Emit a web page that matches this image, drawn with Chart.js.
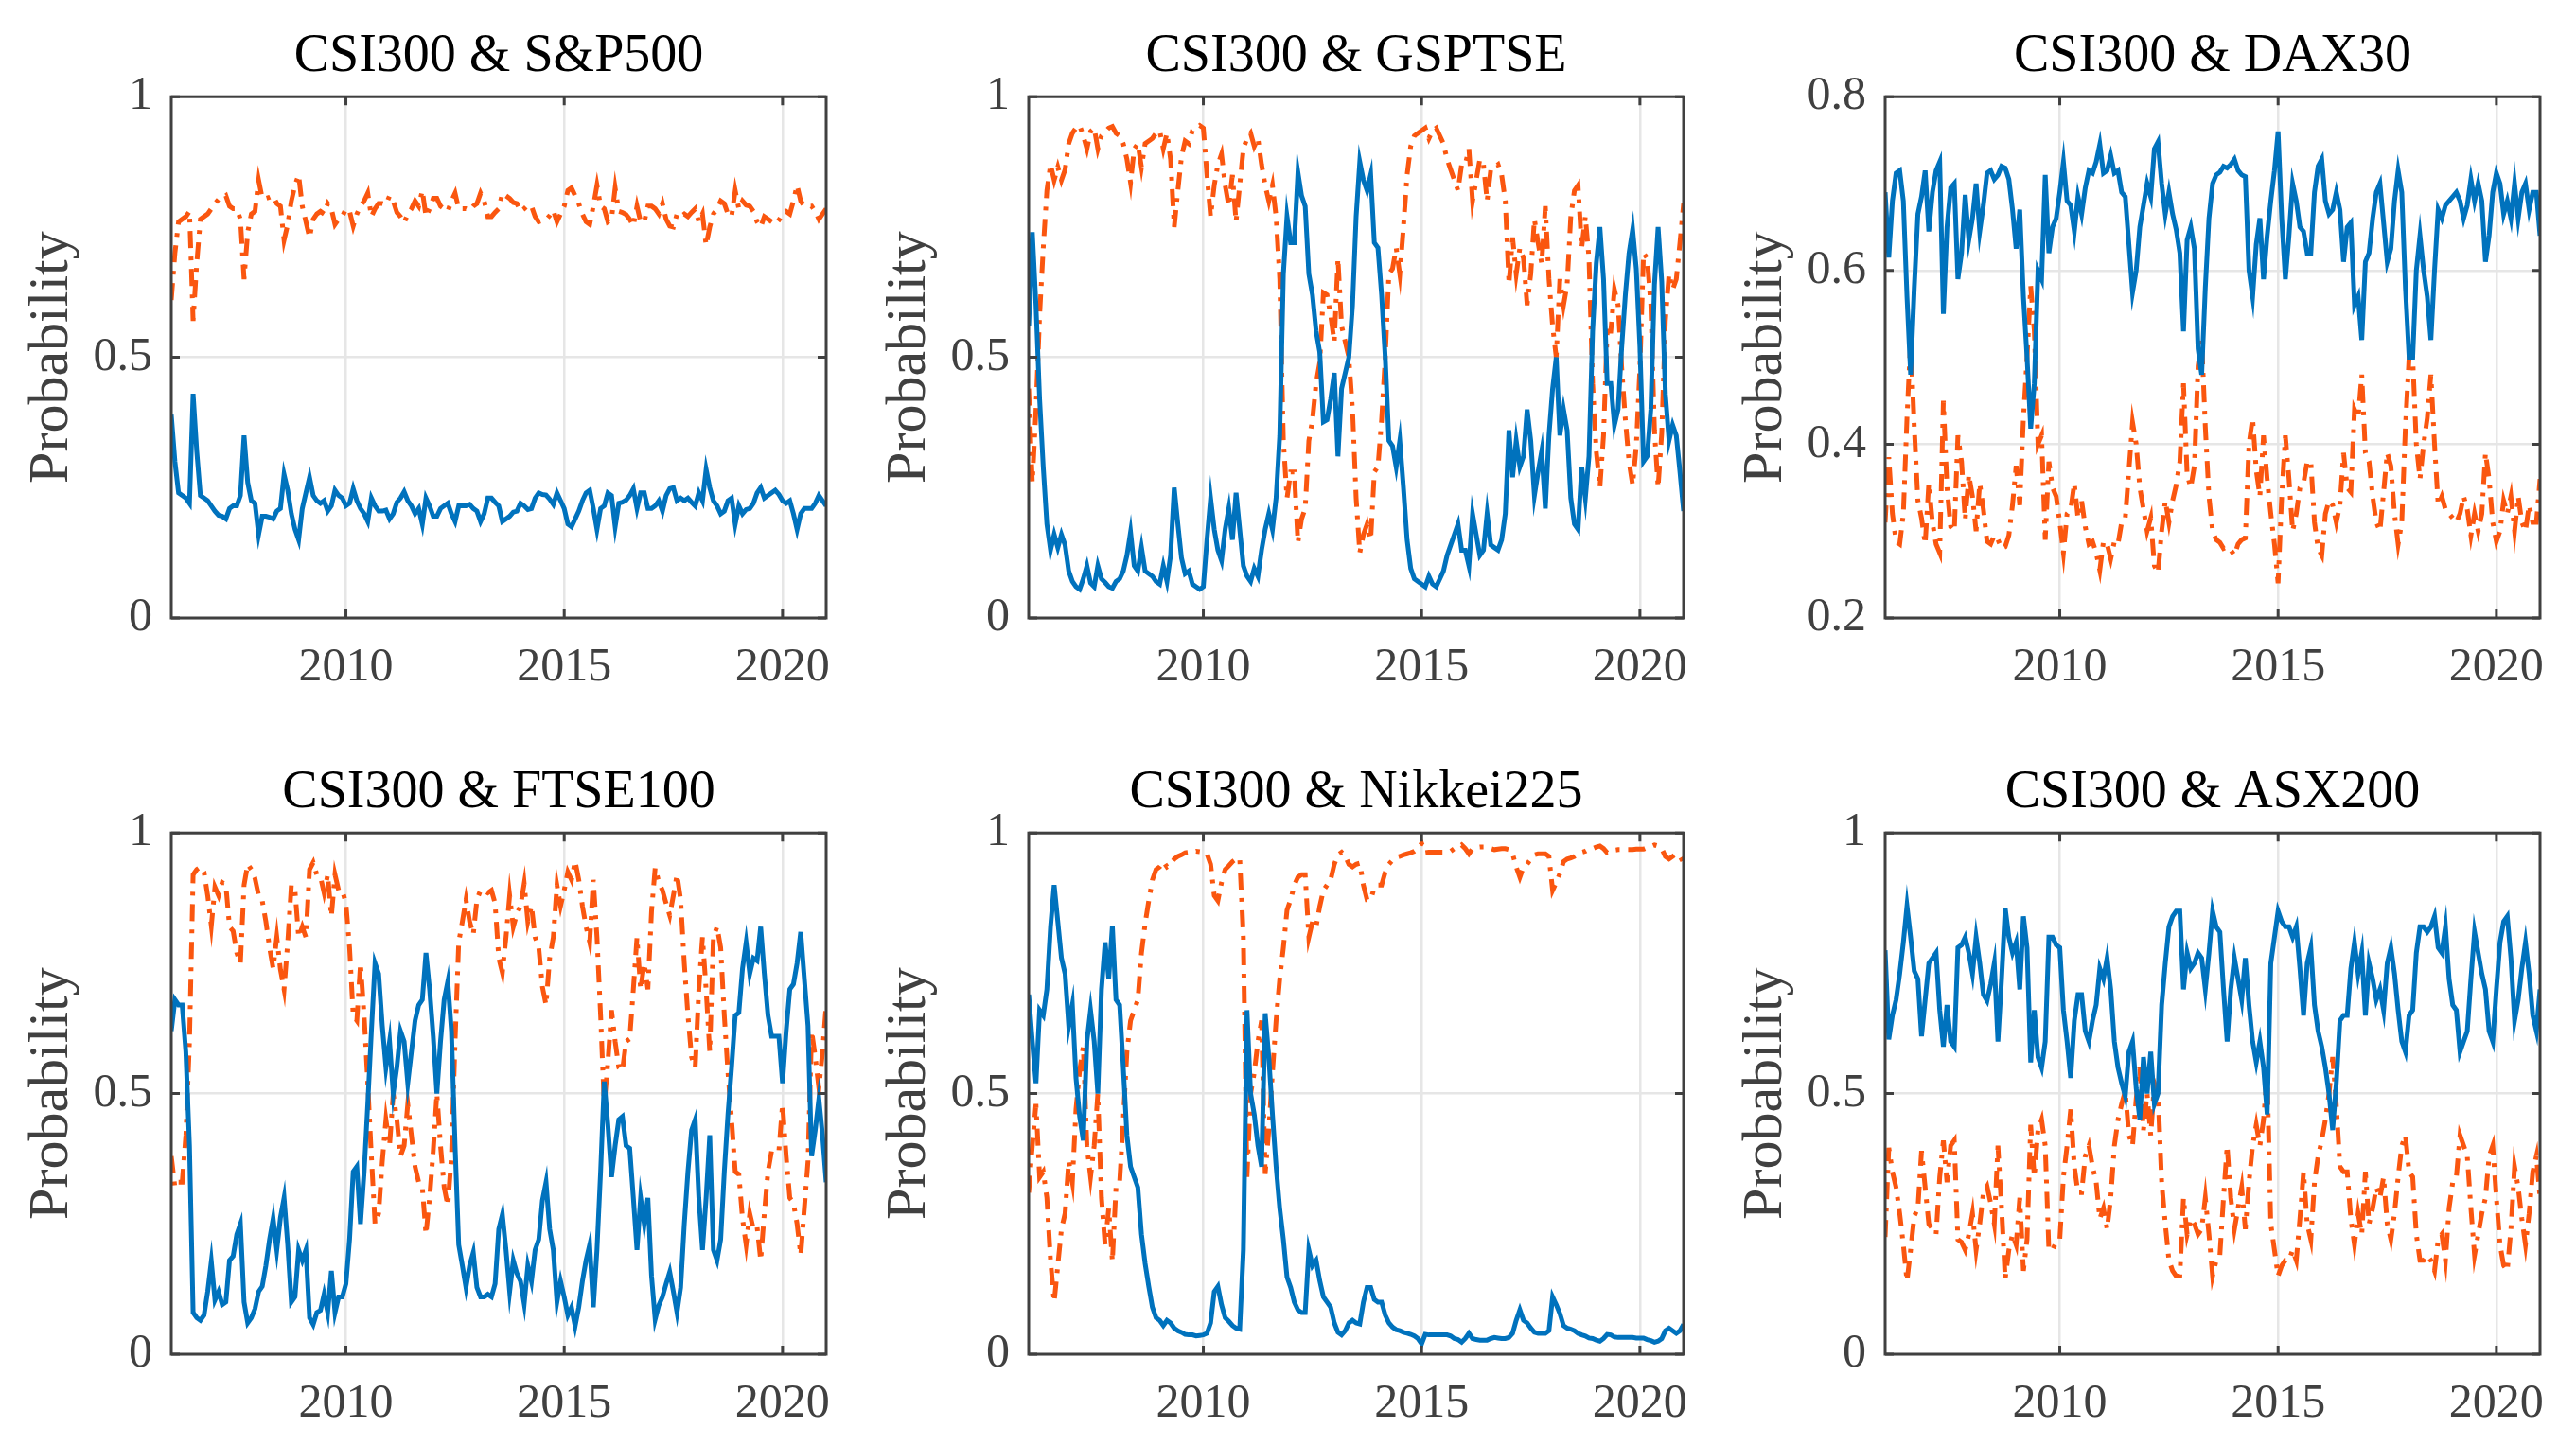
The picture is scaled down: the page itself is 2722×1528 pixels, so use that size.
<!DOCTYPE html>
<html>
<head>
<meta charset="utf-8">
<title>CSI300 regime probabilities</title>
<script src="https://cdn.jsdelivr.net/npm/chart.js@4.4.1/dist/chart.umd.min.js"></script>
<style>
  html, body { margin: 0; padding: 0; background: #fff; }
  body { width: 2722px; height: 1528px; position: relative; overflow: hidden; }
  canvas { position: absolute; }
</style>
</head>
<body>
<canvas id="sp500"></canvas>
<canvas id="gsptse"></canvas>
<canvas id="dax30"></canvas>
<canvas id="ftse100"></canvas>
<canvas id="nikkei225"></canvas>
<canvas id="asx200"></canvas>
<script>
// ==================== DATA ====================
// monthly samples, Jan 2006 .. Jan 2021 (181 points per series)
const startYear = 2006;
const stepsPerYear = 12;

const yearTicks = [2010, 2015, 2020];
const probTicks = [0, 0.5, 1];
const daxTicks = [0.2, 0.4, 0.6, 0.8];

const panelTitles = ['CSI300 & S&P500', 'CSI300 & GSPTSE', 'CSI300 & DAX30',
                     'CSI300 & FTSE100', 'CSI300 & Nikkei225', 'CSI300 & ASX200'];

const sp500State1 = [
  0.39,0.30,0.24,0.235,0.23,0.22,0.43,0.32,0.235,0.23,0.225,0.215,
  0.205,0.197,0.195,0.19,0.21,0.215,0.215,0.235,0.35,0.26,0.225,0.22,
  0.16,0.195,0.195,0.193,0.19,0.205,0.21,0.275,0.245,0.2,0.17,0.15,
  0.21,0.24,0.27,0.235,0.225,0.22,0.225,0.205,0.215,0.245,0.235,0.23,
  0.215,0.22,0.248,0.225,0.21,0.2,0.185,0.23,0.215,0.205,0.205,0.207,
  0.19,0.2,0.222,0.23,0.242,0.225,0.215,0.2,0.21,0.18,0.23,0.215,
  0.195,0.195,0.21,0.215,0.22,0.2,0.185,0.215,0.215,0.215,0.218,0.21,
  0.205,0.185,0.2,0.23,0.23,0.222,0.215,0.185,0.19,0.195,0.203,0.205,
  0.22,0.215,0.208,0.21,0.23,0.24,0.237,0.236,0.228,0.218,0.24,0.225,
  0.21,0.18,0.175,0.19,0.205,0.225,0.24,0.245,0.21,0.17,0.21,0.215,
  0.24,0.235,0.175,0.22,0.222,0.226,0.235,0.248,0.21,0.24,0.24,0.21,
  0.21,0.215,0.225,0.205,0.235,0.248,0.25,0.225,0.23,0.225,0.23,0.222,
  0.215,0.24,0.225,0.285,0.25,0.225,0.215,0.2,0.205,0.225,0.23,0.18,
  0.215,0.2,0.208,0.21,0.22,0.24,0.25,0.23,0.235,0.24,0.245,0.237,
  0.225,0.22,0.225,0.2,0.17,0.2,0.21,0.21,0.21,0.22,0.235,0.225,
  0.215
];
const sp500State2 = [
  0.61,0.70,0.76,0.765,0.77,0.78,0.57,0.68,0.765,0.77,0.775,0.785,
  0.795,0.803,0.805,0.81,0.79,0.785,0.785,0.765,0.65,0.74,0.775,0.78,
  0.84,0.805,0.805,0.807,0.81,0.795,0.79,0.725,0.755,0.8,0.83,0.85,
  0.79,0.76,0.73,0.765,0.775,0.78,0.775,0.795,0.785,0.755,0.765,0.77,
  0.785,0.78,0.752,0.775,0.79,0.8,0.815,0.77,0.785,0.795,0.795,0.793,
  0.81,0.8,0.778,0.77,0.758,0.775,0.785,0.8,0.79,0.82,0.77,0.785,
  0.805,0.805,0.79,0.785,0.78,0.8,0.815,0.785,0.785,0.785,0.782,0.79,
  0.795,0.815,0.8,0.77,0.77,0.778,0.785,0.815,0.81,0.805,0.797,0.795,
  0.78,0.785,0.792,0.79,0.77,0.76,0.763,0.764,0.772,0.782,0.76,0.775,
  0.79,0.82,0.825,0.81,0.795,0.775,0.76,0.755,0.79,0.83,0.79,0.785,
  0.76,0.765,0.825,0.78,0.778,0.774,0.765,0.752,0.79,0.76,0.76,0.79,
  0.79,0.785,0.775,0.795,0.765,0.752,0.75,0.775,0.77,0.775,0.77,0.778,
  0.785,0.76,0.775,0.715,0.75,0.775,0.785,0.8,0.795,0.775,0.77,0.82,
  0.785,0.8,0.792,0.79,0.78,0.76,0.75,0.77,0.765,0.76,0.755,0.763,
  0.775,0.78,0.775,0.8,0.83,0.8,0.79,0.79,0.79,0.78,0.765,0.775,
  0.785
];

const gsptseState1 = [
  0.56,0.74,0.60,0.42,0.29,0.18,0.13,0.16,0.135,0.16,0.14,0.09,
  0.07,0.06,0.055,0.075,0.10,0.067,0.06,0.10,0.075,0.068,0.06,0.057,
  0.07,0.075,0.09,0.12,0.165,0.1,0.09,0.135,0.09,0.085,0.08,0.07,
  0.065,0.1,0.07,0.12,0.25,0.18,0.115,0.085,0.09,0.065,0.06,0.055,
  0.06,0.15,0.23,0.17,0.13,0.11,0.17,0.21,0.15,0.24,0.17,0.1,
  0.08,0.07,0.095,0.08,0.13,0.17,0.2,0.17,0.23,0.35,0.66,0.77,
  0.72,0.72,0.855,0.81,0.79,0.66,0.62,0.55,0.51,0.376,0.38,0.42,
  0.47,0.31,0.44,0.47,0.5,0.6,0.77,0.875,0.84,0.82,0.85,0.72,
  0.71,0.62,0.5,0.34,0.33,0.29,0.34,0.25,0.15,0.095,0.075,0.07,
  0.065,0.06,0.08,0.065,0.06,0.075,0.09,0.12,0.14,0.16,0.18,0.13,
  0.13,0.1,0.2,0.16,0.12,0.13,0.2,0.14,0.135,0.13,0.15,0.2,
  0.36,0.27,0.34,0.29,0.31,0.4,0.34,0.235,0.28,0.32,0.21,0.35,
  0.44,0.5,0.35,0.4,0.36,0.23,0.18,0.17,0.29,0.23,0.31,0.55,
  0.68,0.75,0.65,0.45,0.45,0.37,0.4,0.52,0.62,0.7,0.745,0.67,
  0.52,0.3,0.31,0.4,0.64,0.75,0.645,0.43,0.34,0.37,0.35,0.28,
  0.205
];
const gsptseState2 = [
  0.44,0.26,0.40,0.58,0.71,0.82,0.87,0.84,0.865,0.84,0.86,0.91,
  0.93,0.94,0.945,0.925,0.90,0.933,0.94,0.90,0.925,0.932,0.94,0.943,
  0.93,0.925,0.91,0.88,0.835,0.9,0.91,0.865,0.91,0.915,0.92,0.93,
  0.935,0.9,0.93,0.88,0.75,0.82,0.885,0.915,0.91,0.935,0.94,0.945,
  0.94,0.85,0.77,0.83,0.87,0.89,0.83,0.79,0.85,0.76,0.83,0.9,
  0.92,0.93,0.905,0.92,0.87,0.83,0.8,0.83,0.77,0.65,0.34,0.23,
  0.28,0.28,0.145,0.19,0.21,0.34,0.38,0.45,0.49,0.624,0.62,0.58,
  0.53,0.69,0.56,0.53,0.5,0.4,0.23,0.125,0.16,0.18,0.15,0.28,
  0.29,0.38,0.5,0.66,0.67,0.71,0.66,0.75,0.85,0.905,0.925,0.93,
  0.935,0.94,0.92,0.935,0.94,0.925,0.91,0.88,0.86,0.84,0.82,0.87,
  0.87,0.9,0.8,0.84,0.88,0.87,0.8,0.86,0.865,0.87,0.85,0.8,
  0.64,0.73,0.66,0.71,0.69,0.6,0.66,0.765,0.72,0.68,0.79,0.65,
  0.56,0.5,0.65,0.6,0.64,0.77,0.82,0.83,0.71,0.77,0.69,0.45,
  0.32,0.25,0.35,0.55,0.55,0.63,0.6,0.48,0.38,0.3,0.255,0.33,
  0.48,0.7,0.69,0.6,0.36,0.25,0.355,0.57,0.66,0.63,0.65,0.72,
  0.795
];

const daxState1 = [
  0.69,0.615,0.68,0.712,0.715,0.68,0.57,0.48,0.58,0.665,0.685,0.715,
  0.645,0.69,0.715,0.725,0.55,0.65,0.695,0.7,0.59,0.62,0.687,0.635,
  0.66,0.7,0.645,0.675,0.712,0.715,0.705,0.71,0.72,0.718,0.705,0.67,
  0.625,0.67,0.57,0.5,0.418,0.47,0.6,0.59,0.71,0.62,0.65,0.66,
  0.69,0.725,0.68,0.675,0.645,0.685,0.665,0.695,0.715,0.712,0.725,0.745,
  0.712,0.715,0.732,0.712,0.715,0.69,0.685,0.63,0.575,0.6,0.65,0.675,
  0.7,0.685,0.74,0.748,0.7,0.665,0.69,0.665,0.647,0.62,0.53,0.635,
  0.65,0.625,0.51,0.48,0.58,0.66,0.7,0.71,0.713,0.72,0.718,0.722,
  0.728,0.715,0.71,0.708,0.6,0.57,0.63,0.66,0.59,0.64,0.68,0.715,
  0.76,0.66,0.59,0.64,0.7,0.68,0.65,0.645,0.62,0.62,0.69,0.72,
  0.728,0.68,0.665,0.67,0.69,0.67,0.61,0.65,0.655,0.56,0.57,0.52,
  0.61,0.62,0.66,0.69,0.7,0.655,0.61,0.625,0.68,0.715,0.69,0.58,
  0.5,0.5,0.6,0.64,0.6,0.57,0.52,0.6,0.67,0.66,0.675,0.68,
  0.685,0.69,0.68,0.66,0.675,0.705,0.68,0.7,0.68,0.61,0.64,0.69,
  0.712,0.7,0.665,0.68,0.66,0.7,0.66,0.69,0.7,0.67,0.69,0.69,
  0.64
];
const daxState2 = [
  0.31,0.385,0.32,0.288,0.285,0.32,0.43,0.52,0.42,0.335,0.315,0.285,
  0.355,0.31,0.285,0.275,0.45,0.35,0.305,0.3,0.41,0.38,0.313,0.365,
  0.34,0.3,0.355,0.325,0.288,0.285,0.295,0.29,0.28,0.282,0.295,0.33,
  0.375,0.33,0.43,0.5,0.582,0.53,0.4,0.41,0.29,0.38,0.35,0.34,
  0.31,0.275,0.32,0.325,0.355,0.315,0.335,0.305,0.285,0.288,0.275,0.255,
  0.288,0.285,0.268,0.288,0.285,0.31,0.315,0.37,0.425,0.4,0.35,0.325,
  0.3,0.315,0.26,0.252,0.3,0.335,0.31,0.335,0.353,0.38,0.47,0.365,
  0.35,0.375,0.49,0.52,0.42,0.34,0.3,0.29,0.287,0.28,0.282,0.278,
  0.272,0.285,0.29,0.292,0.4,0.43,0.37,0.34,0.41,0.36,0.32,0.285,
  0.24,0.34,0.41,0.36,0.3,0.32,0.35,0.355,0.38,0.38,0.31,0.28,
  0.272,0.32,0.335,0.33,0.31,0.33,0.39,0.35,0.345,0.44,0.43,0.48,
  0.39,0.38,0.34,0.31,0.3,0.345,0.39,0.375,0.32,0.285,0.31,0.42,
  0.5,0.5,0.4,0.36,0.4,0.43,0.48,0.4,0.33,0.34,0.325,0.32,
  0.315,0.31,0.32,0.34,0.325,0.295,0.32,0.3,0.32,0.39,0.36,0.31,
  0.288,0.3,0.335,0.32,0.34,0.3,0.34,0.31,0.3,0.33,0.31,0.31,
  0.36
];

const ftseState1 = [
  0.62,0.68,0.67,0.67,0.58,0.4,0.08,0.07,0.065,0.075,0.12,0.178,
  0.104,0.12,0.095,0.1,0.18,0.188,0.23,0.25,0.1,0.06,0.07,0.087,
  0.12,0.13,0.17,0.22,0.26,0.2,0.262,0.3,0.21,0.1,0.11,0.2,
  0.18,0.2,0.07,0.057,0.08,0.084,0.115,0.08,0.16,0.08,0.11,0.11,
  0.135,0.22,0.35,0.36,0.25,0.35,0.48,0.62,0.75,0.73,0.63,0.55,
  0.6,0.5,0.55,0.62,0.6,0.52,0.58,0.64,0.67,0.68,0.77,0.7,
  0.61,0.5,0.6,0.68,0.715,0.62,0.4,0.21,0.17,0.128,0.17,0.195,
  0.128,0.11,0.11,0.115,0.11,0.135,0.24,0.268,0.2,0.12,0.18,0.155,
  0.14,0.097,0.17,0.14,0.2,0.22,0.295,0.33,0.24,0.2,0.1,0.14,
  0.11,0.075,0.09,0.054,0.09,0.14,0.18,0.21,0.09,0.2,0.35,0.523,
  0.44,0.34,0.4,0.45,0.456,0.4,0.395,0.3,0.2,0.3,0.25,0.3,
  0.15,0.067,0.094,0.11,0.135,0.158,0.12,0.08,0.128,0.25,0.35,0.43,
  0.45,0.3,0.2,0.3,0.42,0.2,0.18,0.22,0.35,0.46,0.55,0.65,
  0.655,0.74,0.79,0.73,0.76,0.755,0.82,0.73,0.65,0.61,0.61,0.61,
  0.52,0.62,0.7,0.71,0.75,0.81,0.72,0.63,0.38,0.43,0.49,0.42,
  0.33
];
const ftseState2 = [
  0.38,0.32,0.33,0.33,0.42,0.6,0.92,0.93,0.935,0.925,0.88,0.822,
  0.896,0.88,0.905,0.9,0.82,0.812,0.77,0.75,0.9,0.94,0.93,0.913,
  0.88,0.87,0.83,0.78,0.74,0.8,0.738,0.7,0.79,0.9,0.89,0.8,
  0.82,0.8,0.93,0.943,0.92,0.916,0.885,0.92,0.84,0.92,0.89,0.89,
  0.865,0.78,0.65,0.64,0.75,0.65,0.52,0.38,0.25,0.27,0.37,0.45,
  0.4,0.5,0.45,0.38,0.4,0.48,0.42,0.36,0.33,0.32,0.23,0.3,
  0.39,0.5,0.4,0.32,0.285,0.38,0.6,0.79,0.83,0.872,0.83,0.805,
  0.872,0.89,0.89,0.885,0.89,0.865,0.76,0.732,0.8,0.88,0.82,0.845,
  0.86,0.903,0.83,0.86,0.8,0.78,0.705,0.67,0.76,0.8,0.9,0.86,
  0.89,0.925,0.91,0.946,0.91,0.86,0.82,0.79,0.91,0.8,0.65,0.477,
  0.56,0.66,0.6,0.55,0.544,0.6,0.605,0.7,0.8,0.7,0.75,0.7,
  0.85,0.933,0.906,0.89,0.865,0.842,0.88,0.92,0.872,0.75,0.65,0.57,
  0.55,0.7,0.8,0.7,0.58,0.8,0.82,0.78,0.65,0.54,0.45,0.35,
  0.345,0.26,0.21,0.27,0.24,0.245,0.18,0.27,0.35,0.39,0.39,0.39,
  0.48,0.38,0.3,0.29,0.25,0.19,0.28,0.37,0.62,0.57,0.51,0.58,
  0.67
];

const nikkeiState1 = [
  0.69,0.6,0.52,0.66,0.65,0.7,0.82,0.9,0.83,0.76,0.73,0.63,
  0.67,0.53,0.456,0.41,0.6,0.66,0.6,0.5,0.7,0.79,0.72,0.822,
  0.68,0.67,0.55,0.42,0.36,0.34,0.32,0.23,0.174,0.13,0.09,0.07,
  0.065,0.055,0.065,0.06,0.05,0.045,0.042,0.038,0.037,0.037,0.035,0.036,
  0.037,0.04,0.06,0.12,0.13,0.095,0.07,0.063,0.055,0.05,0.048,0.2,
  0.66,0.5,0.46,0.4,0.36,0.654,0.57,0.46,0.36,0.28,0.22,0.148,
  0.128,0.1,0.085,0.08,0.08,0.2,0.17,0.18,0.141,0.11,0.1,0.09,
  0.06,0.042,0.037,0.045,0.06,0.065,0.06,0.058,0.1,0.128,0.128,0.105,
  0.1,0.1,0.075,0.06,0.052,0.047,0.045,0.042,0.04,0.038,0.035,0.03,
  0.02,0.038,0.037,0.037,0.037,0.037,0.037,0.037,0.035,0.03,0.028,0.023,
  0.03,0.04,0.03,0.028,0.027,0.027,0.027,0.03,0.032,0.031,0.03,0.03,
  0.032,0.04,0.065,0.085,0.065,0.06,0.05,0.042,0.04,0.04,0.04,0.045,
  0.11,0.095,0.078,0.055,0.05,0.048,0.045,0.04,0.037,0.035,0.031,0.03,
  0.027,0.025,0.03,0.038,0.037,0.033,0.032,0.032,0.032,0.032,0.032,0.031,
  0.031,0.031,0.028,0.026,0.023,0.025,0.03,0.045,0.05,0.045,0.04,0.045,
  0.057
];
const nikkeiState2 = [
  0.31,0.4,0.48,0.34,0.35,0.3,0.18,0.1,0.17,0.24,0.27,0.37,
  0.33,0.47,0.544,0.59,0.4,0.34,0.4,0.5,0.3,0.21,0.28,0.178,
  0.32,0.33,0.45,0.58,0.64,0.66,0.68,0.77,0.826,0.87,0.91,0.93,
  0.935,0.945,0.935,0.94,0.95,0.955,0.958,0.962,0.963,0.963,0.965,0.964,
  0.963,0.96,0.94,0.88,0.87,0.905,0.93,0.937,0.945,0.95,0.952,0.8,
  0.34,0.5,0.54,0.6,0.64,0.346,0.43,0.54,0.64,0.72,0.78,0.852,
  0.872,0.9,0.915,0.92,0.92,0.8,0.83,0.82,0.859,0.89,0.9,0.91,
  0.94,0.958,0.963,0.955,0.94,0.935,0.94,0.942,0.9,0.872,0.872,0.895,
  0.9,0.9,0.925,0.94,0.948,0.953,0.955,0.958,0.96,0.962,0.965,0.97,
  0.98,0.962,0.963,0.963,0.963,0.963,0.963,0.963,0.965,0.97,0.972,0.977,
  0.97,0.96,0.97,0.972,0.973,0.973,0.973,0.97,0.968,0.969,0.97,0.97,
  0.968,0.96,0.935,0.915,0.935,0.94,0.95,0.958,0.96,0.96,0.96,0.955,
  0.89,0.905,0.922,0.945,0.95,0.952,0.955,0.96,0.963,0.965,0.969,0.97,
  0.973,0.975,0.97,0.962,0.963,0.967,0.968,0.968,0.968,0.968,0.968,0.969,
  0.969,0.969,0.972,0.974,0.977,0.975,0.97,0.955,0.95,0.955,0.96,0.955,
  0.943
];

const asxState1 = [
  0.775,0.604,0.65,0.68,0.73,0.79,0.86,0.8,0.735,0.72,0.61,0.68,
  0.75,0.76,0.77,0.66,0.59,0.67,0.6,0.59,0.78,0.785,0.8,0.77,
  0.73,0.8,0.75,0.69,0.678,0.71,0.75,0.6,0.72,0.856,0.8,0.77,
  0.79,0.7,0.84,0.78,0.56,0.66,0.57,0.55,0.6,0.8,0.8,0.785,
  0.78,0.66,0.6,0.53,0.64,0.69,0.69,0.62,0.6,0.64,0.67,0.74,
  0.72,0.76,0.7,0.6,0.55,0.52,0.495,0.58,0.6,0.51,0.45,0.57,
  0.5,0.58,0.48,0.5,0.67,0.75,0.82,0.84,0.85,0.85,0.7,0.77,
  0.74,0.75,0.77,0.76,0.7,0.77,0.85,0.82,0.81,0.7,0.6,0.7,
  0.76,0.72,0.68,0.76,0.67,0.6,0.56,0.6,0.55,0.46,0.75,0.8,
  0.85,0.83,0.82,0.82,0.8,0.82,0.74,0.65,0.75,0.78,0.67,0.62,
  0.59,0.55,0.5,0.43,0.52,0.64,0.65,0.65,0.74,0.79,0.73,0.77,
  0.65,0.75,0.72,0.68,0.7,0.66,0.75,0.78,0.73,0.66,0.6,0.58,
  0.65,0.66,0.77,0.82,0.82,0.81,0.82,0.84,0.78,0.77,0.82,0.72,
  0.67,0.66,0.58,0.6,0.62,0.72,0.81,0.77,0.73,0.7,0.62,0.6,
  0.7,0.79,0.83,0.84,0.76,0.64,0.68,0.74,0.79,0.73,0.65,0.62,
  0.7
];
const asxState2 = [
  0.225,0.396,0.35,0.32,0.27,0.21,0.14,0.2,0.265,0.28,0.39,0.32,
  0.25,0.24,0.23,0.34,0.41,0.33,0.4,0.41,0.22,0.215,0.2,0.23,
  0.27,0.2,0.25,0.31,0.322,0.29,0.25,0.4,0.28,0.144,0.2,0.23,
  0.21,0.3,0.16,0.22,0.44,0.34,0.43,0.45,0.4,0.2,0.2,0.215,
  0.22,0.34,0.4,0.47,0.36,0.31,0.31,0.38,0.4,0.36,0.33,0.26,
  0.28,0.24,0.3,0.4,0.45,0.48,0.505,0.42,0.4,0.49,0.55,0.43,
  0.5,0.42,0.52,0.5,0.33,0.25,0.18,0.16,0.15,0.15,0.3,0.23,
  0.26,0.25,0.23,0.24,0.3,0.23,0.15,0.18,0.19,0.3,0.4,0.3,
  0.24,0.28,0.32,0.24,0.33,0.4,0.44,0.4,0.45,0.54,0.25,0.2,
  0.15,0.17,0.18,0.18,0.2,0.18,0.26,0.35,0.25,0.22,0.33,0.38,
  0.41,0.45,0.5,0.57,0.48,0.36,0.35,0.35,0.26,0.21,0.27,0.23,
  0.35,0.25,0.28,0.32,0.3,0.34,0.25,0.22,0.27,0.34,0.4,0.42,
  0.35,0.34,0.23,0.18,0.18,0.19,0.18,0.16,0.22,0.23,0.18,0.28,
  0.33,0.34,0.42,0.4,0.38,0.28,0.19,0.23,0.27,0.3,0.38,0.4,
  0.3,0.21,0.17,0.16,0.24,0.36,0.32,0.26,0.21,0.27,0.35,0.38,
  0.3
];

// ==================== STYLE ====================
const FONT = "'Liberation Serif', 'Times New Roman', serif";
const BLUE = '#0072BD';
const ORANGE = '#FA560F';
const AXIS_COLOR = '#404040';
const GRID_COLOR = '#E6E6E6';
const TEXT_GRAY = '#404040';
const TICK_LEN = 9;

// layout (page px): canvas = y-axis strip + plot + right margin
const Y_STRIP = 181;
const PLOT_W = 692;
const PLOT_H = 551;
const TOP_STRIP = 102;
const X_STRIP = 95;
const RIGHT_PAD = 30;
const colLeft = [0, 906, 1811];
const rowTop = [0, 778];

// ==================== PANELS ====================
const panels = [
  { id: 'sp500',     title: panelTitles[0], s1: sp500State1,  s2: sp500State2,  min: 0,   max: 1,   yTicks: probTicks, col: 0, row: 0 },
  { id: 'gsptse',    title: panelTitles[1], s1: gsptseState1, s2: gsptseState2, min: 0,   max: 1,   yTicks: probTicks, col: 1, row: 0 },
  { id: 'dax30',     title: panelTitles[2], s1: daxState1,    s2: daxState2,    min: 0.2, max: 0.8, yTicks: daxTicks,  col: 2, row: 0 },
  { id: 'ftse100',   title: panelTitles[3], s1: ftseState1,   s2: ftseState2,   min: 0,   max: 1,   yTicks: probTicks, col: 0, row: 1 },
  { id: 'nikkei225', title: panelTitles[4], s1: nikkeiState1, s2: nikkeiState2, min: 0,   max: 1,   yTicks: probTicks, col: 1, row: 1 },
  { id: 'asx200',    title: panelTitles[5], s1: asxState1,    s2: asxState2,    min: 0,   max: 1,   yTicks: probTicks, col: 2, row: 1 }
];

function toPoints(values) {
  return values.map((v, i) => ({ x: startYear + i / stepsPerYear, y: v }));
}

// MATLAB-like box with inward ticks on all four sides
const axesBox = {
  id: 'axesBox',
  afterDatasetsDraw(chart) {
    const { ctx, chartArea: a, scales: { x, y } } = chart;
    ctx.save();
    ctx.strokeStyle = AXIS_COLOR;
    ctx.lineWidth = 3;
    ctx.beginPath();
    x.ticks.forEach(t => {
      const px = x.getPixelForValue(t.value);
      ctx.moveTo(px, a.bottom); ctx.lineTo(px, a.bottom - TICK_LEN);
      ctx.moveTo(px, a.top);    ctx.lineTo(px, a.top + TICK_LEN);
    });
    y.ticks.forEach(t => {
      const py = y.getPixelForValue(t.value);
      ctx.moveTo(a.left, py);  ctx.lineTo(a.left + TICK_LEN, py);
      ctx.moveTo(a.right, py); ctx.lineTo(a.right - TICK_LEN, py);
    });
    ctx.stroke();
    ctx.strokeRect(a.left, a.top, a.right - a.left, a.bottom - a.top);
    ctx.restore();
  }
};

function buildPanel(p) {
  const canvas = document.getElementById(p.id);
  const w = Y_STRIP + PLOT_W + RIGHT_PAD;
  const h = TOP_STRIP + PLOT_H + X_STRIP;
  canvas.width = w;
  canvas.height = h;
  canvas.style.width = w + 'px';
  canvas.style.height = h + 'px';
  canvas.style.left = colLeft[p.col] + 'px';
  canvas.style.top = rowTop[p.row] + 'px';

  const grid = { color: GRID_COLOR, lineWidth: 2.5, drawTicks: false };

  return new Chart(canvas, {
    type: 'line',
    data: {
      datasets: [
        { data: toPoints(p.s1), borderColor: BLUE, borderWidth: 5,
          pointRadius: 0, tension: 0, clip: 0 },
        { data: toPoints(p.s2), borderColor: ORANGE, borderWidth: 5,
          borderDash: [18, 9, 4, 9], pointRadius: 0, tension: 0, clip: 0 }
      ]
    },
    options: {
      responsive: false,
      animation: false,
      devicePixelRatio: 1,
      events: [],
      layout: { padding: { left: 0, right: RIGHT_PAD, top: 0, bottom: 0 } },
      plugins: {
        legend: { display: false },
        tooltip: { enabled: false },
        title: {
          display: true,
          fullSize: false,   // centre over the plot, not the whole canvas
          text: p.title,
          color: '#000',
          font: { family: FONT, size: 56, weight: 'normal', lineHeight: 1.2 },
          padding: { top: 27, bottom: 8 }
        }
      },
      scales: {
        x: {
          type: 'linear',
          min: startYear,
          max: 2021,
          afterBuildTicks: s => { s.ticks = yearTicks.map(v => ({ value: v })); },
          afterFit: s => { s.height = X_STRIP; },
          ticks: { font: { family: FONT, size: 50 }, color: TEXT_GRAY, padding: 23,
                   maxRotation: 0, callback: v => String(v) },
          grid: grid,
          border: { display: false }
        },
        y: {
          type: 'linear',
          min: p.min,
          max: p.max,
          afterBuildTicks: s => { s.ticks = p.yTicks.map(v => ({ value: v })); },
          afterFit: s => { s.width = Y_STRIP; },
          ticks: { font: { family: FONT, size: 50 }, color: TEXT_GRAY, padding: 20,
                   callback: v => String(v) },
          title: { display: true, text: 'Probability', color: TEXT_GRAY,
                   font: { family: FONT, size: 60, lineHeight: 1.2 },
                   padding: { top: 19, bottom: 0 } },
          grid: grid,
          border: { display: false }
        }
      }
    },
    plugins: [axesBox]
  });
}

panels.forEach(buildPanel);
</script>
</body>
</html>
